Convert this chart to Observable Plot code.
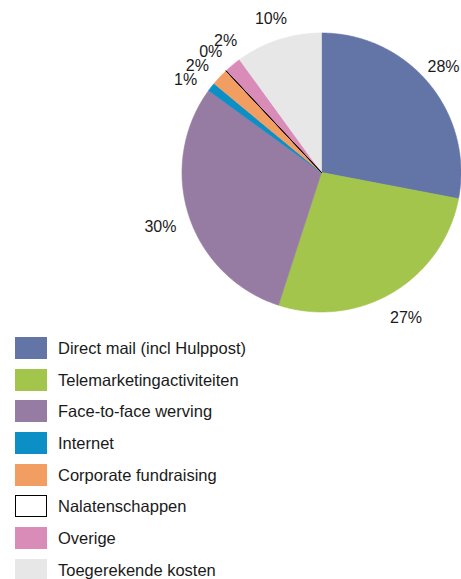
<!DOCTYPE html>
<html>
<head>
<meta charset="utf-8">
<script src="https://cdn.jsdelivr.net/npm/d3@7"></script>
<script src="https://cdn.jsdelivr.net/npm/@observablehq/plot@0.6"></script>
<style>
  html, body { margin: 0; padding: 0; background: #fff; }
  body { width: 461px; height: 579px; overflow: hidden; font-family: "Liberation Sans", Arial, sans-serif; color: #1a1a1a; }
  #chart svg { display: block; }
  #legend { padding-top: 2px; }
  .row { display: flex; align-items: center; height: 31.7px; }
  .sw { width: 32px; height: 22px; margin-left: 15px; margin-right: 11px; box-sizing: border-box; flex: none; }
  .lab { font-size: 16.5px; line-height: 22px; white-space: nowrap; }
</style>
</head>
<body>
<div id="chart"></div>
<div id="legend"></div>
<script>
const categories = ["Direct mail (incl Hulppost)", "Telemarketingactiviteiten", "Face-to-face werving", "Internet", "Corporate fundraising", "Nalatenschappen", "Overige", "Toegerekende kosten"];
const values = [28, 27, 30, 1, 2, 0, 2, 10];
const colors = ["#6374a6", "#a3c54b", "#967ca3", "#0b8fc4", "#f29e63", "#ffffff", "#d98cb7", "#e7e7e7"];
const outlined = ["Nalatenschappen"];

const W = 461, H = 330;
const xRange = [181.5, 460.5], yRange = [311.5, 32.5];
const R = (xRange[1] - xRange[0]) / 2;
const cx = (xRange[0] + xRange[1]) / 2;

const total = d3.sum(values);
const slices = [];
let acc = 0;
categories.forEach((c, i) => {
  const a0 = acc / total * 2 * Math.PI;
  acc += values[i];
  const a1 = acc / total * 2 * Math.PI;
  slices.push({category: c, value: values[i], a0, a1, mid: (a0 + a1) / 2});
});

// polygon vertices of each slice (angles clockwise from 12 o'clock)
const pts = [];
for (const s of slices) {
  pts.push({category: s.category, x: 0, y: 0});
  const n = Math.max(1, Math.ceil((s.a1 - s.a0) / (Math.PI / 360)));
  for (let k = 0; k <= n; k++) {
    const a = s.a0 + (s.a1 - s.a0) * k / n;
    pts.push({category: s.category, x: Math.sin(a), y: Math.cos(a)});
  }
  pts.push({category: s.category, x: 0, y: 0});
}

// label angles: start at slice middles, then push crowded neighbours apart
const minSep = 6.5 * Math.PI / 180;
const ang = slices.map(s => s.mid);
for (let it = 0; it < 200; it++) {
  for (let i = 0; i < ang.length - 1; i++) {
    const d = ang[i + 1] - ang[i];
    if (d < minSep) {
      const p = (minSep - d) / 2;
      ang[i] -= p; ang[i + 1] += p;
    }
  }
}
// radius: outside the pie by a gap plus the text's half-extent in that direction
const gap = 12.5, hh = 7;
const labels = slices.map((s, i) => {
  const text = s.value + "%";
  const hw = text.length === 3 ? 16 : 11.5;
  const sx = Math.sin(ang[i]), sy = Math.cos(ang[i]);
  const r = (R + gap + Math.abs(sx) * hw + Math.abs(sy) * hh) / R;
  // keep the text inside the frame
  const xMax = (W - hw - 2 - cx) / R;
  return {text, x: Math.min(r * sx, xMax), y: r * sy};
});

const plot = Plot.plot({
  width: W,
  height: H,
  margin: 0,
  x: {domain: [-1, 1], range: xRange, axis: null},
  y: {domain: [-1, 1], range: yRange, axis: null},
  color: {domain: categories, range: colors},
  style: {fontFamily: "'Liberation Sans', Arial, sans-serif", background: "white", overflow: "visible"},
  marks: [
    Plot.line(pts.filter(d => !outlined.includes(d.category)), {
      x: "x", y: "y", z: "category", fill: "category", stroke: "category", strokeWidth: 0.6
    }),
    Plot.line(pts.filter(d => outlined.includes(d.category)), {
      x: "x", y: "y", z: "category", fill: "category", stroke: "#000", strokeWidth: 1
    }),
    Plot.text(labels, {x: "x", y: "y", text: "text", fontSize: 16, fill: "#1a1a1a", dy: 2})
  ]
});
document.getElementById("chart").appendChild(plot);

const legend = document.getElementById("legend");
categories.forEach((c, i) => {
  const row = document.createElement("div");
  row.className = "row";
  const sw = document.createElement("div");
  sw.className = "sw";
  sw.style.background = colors[i];
  if (outlined.includes(c)) sw.style.border = "1px solid #000";
  const lab = document.createElement("div");
  lab.className = "lab";
  lab.textContent = c;
  row.appendChild(sw);
  row.appendChild(lab);
  legend.appendChild(row);
});
</script>
</body>
</html>
